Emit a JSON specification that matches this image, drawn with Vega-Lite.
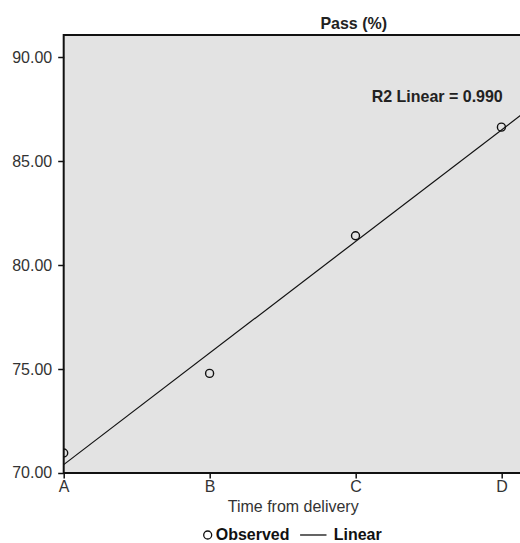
{
  "$schema": "https://vega.github.io/schema/vega-lite/v6.json",
  "width": 458,
  "height": 438,
  "autosize": {"type": "none"},
  "padding": {"left": 63.7, "top": 35, "right": 0, "bottom": 70},
  "background": "white",
  "title": {"text": "Pass (%)", "fontSize": 16, "fontWeight": "bold", "font": "Liberation Sans", "color": "#222", "dx": 61, "offset": 3},
  "data": {"values": [
    {"time": 0, "pass": 70.96},
    {"time": 1, "pass": 74.79},
    {"time": 2, "pass": 81.41},
    {"time": 3, "pass": 86.63}
  ]},
  "config": {
    "view": {"fill": "#e3e3e3", "stroke": "#111", "strokeWidth": 2},
    "axis": {"labelFont": "Liberation Sans", "labelFontSize": 16, "labelColor": "#333", "titleFont": "Liberation Sans", "titleFontSize": 16, "titleFontWeight": "normal", "titleColor": "#333", "tickColor": "#111", "tickWidth": 1.5, "domain": false, "grid": false}
  },
  "layer": [
    {
      "mark": {"type": "line", "color": "#111", "strokeWidth": 1.2, "clip": true},
      "transform": [{"regression": "pass", "on": "time", "extent": [0, 3.139]}],
      "encoding": {
        "x": {"field": "time", "type": "quantitative"},
        "y": {"field": "pass", "type": "quantitative"}
      }
    },
    {
      "mark": {"type": "point", "filled": false, "size": 64, "strokeWidth": 1.4, "color": "#111", "opacity": 1, "clip": true},
      "encoding": {
        "x": {"field": "time", "type": "quantitative", "scale": {"domain": [0, 3.139], "nice": false, "zero": false},
          "axis": {"values": [0, 1, 2, 3], "labelExpr": "['A','B','C','D'][datum.value]", "labelFlush": false, "tickSize": 5, "labelPadding": 1, "title": "Time from delivery", "titlePadding": 4}},
        "y": {"field": "pass", "type": "quantitative", "scale": {"domain": [70, 91.06], "nice": false, "zero": false},
          "axis": {"values": [70, 75, 80, 85, 90], "format": ".2f", "tickSize": 6, "labelPadding": 6, "title": null}},
        "shape": {"datum": "Observed", "type": "nominal",
          "scale": {"domain": ["Observed", "Linear"], "range": ["circle", "M-6.4,0L0.2,0"]},
          "legend": {"orient": "none", "legendX": 136, "legendY": 492, "direction": "horizontal", "title": null,
            "labelFont": "Liberation Sans", "labelFontSize": 16, "labelFontWeight": "bold", "labelColor": "#111",
            "symbolSize": 64, "symbolStrokeColor": "#111", "symbolStrokeWidth": 1.3, "symbolFillColor": "transparent", "labelOffset": 0, "columnPadding": 7}}
      }
    },
    {
      "data": {"values": [{}]},
      "mark": {"type": "text", "font": "Liberation Sans", "fontSize": 16, "fontWeight": "bold", "color": "#222", "align": "center"},
      "encoding": {
        "x": {"datum": 2.56, "type": "quantitative"},
        "y": {"datum": 88.1, "type": "quantitative"},
        "text": {"value": "R2 Linear = 0.990"}
      }
    }
  ]
}
